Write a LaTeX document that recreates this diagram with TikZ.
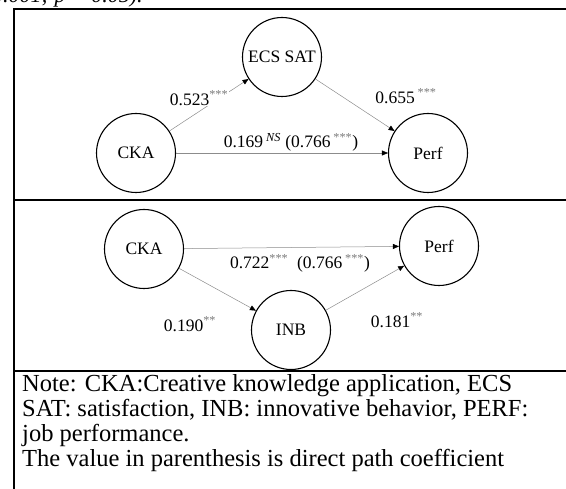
\documentclass[tikz,border=0pt]{standalone}
\usepackage{fontspec}
\setmainfont{Liberation Serif}
\usetikzlibrary{arrows.meta}
\definecolor{pathgray}{HTML}{8C8C8C}
\definecolor{stargray}{HTML}{7A7A7A}
\newcommand{\sig}[1]{\textsuperscript{\color{stargray}#1}}

\begin{document}
\begin{tikzpicture}[x=1pt,y=-1pt,>={Triangle[length=6pt,width=5pt,color=black]},
  lv/.style={circle,draw,line width=1.1pt,minimum size=79pt,inner sep=0pt,font=\fontsize{17.5}{19}\selectfont},
  pth/.style={->,draw=pathgray,line width=0.5pt},
  coef/.style={font=\fontsize{17.5}{19}\selectfont,inner sep=1pt},
  frame/.style={line width=1.6pt}]
\useasboundingbox (0,0) rectangle (566,489);
\clip (0,0) rectangle (566,489);

% cut-off caption line
\node[anchor=west,font=\fontsize{22}{24}\selectfont\itshape,inner sep=0pt] (cap) at (-8,-3) {0.001; p < 0.05).};

% frame
\draw[frame] (14,495) -- (14,9) -- (570,9);
\draw[frame] (14,200) -- (570,200);
\draw[frame] (14,371) -- (570,371);

% panel 1: mediation through ECS SAT
\node[lv] (cka1) at (136,153) {CKA};
\node[lv] (ecs) at (282,57) {ECS SAT};
\node[lv] (perf1) at (428,153) {Perf};
\draw[pth] (cka1) -- (ecs);
\draw[pth] (ecs) -- (perf1);
\draw[pth] (cka1) -- (perf1);
\node[coef,fill=white] (c1) at (199,98) {0.523\sig{***}};
\node[coef,fill=white] (c2) at (406,96) {0.655\,\sig{***}};
\node[coef] (c3) at (291,142) {0.169\,\textsuperscript{\itshape NS} (0.766\,\sig{***})};

% panel 2: mediation through INB
\node[lv] (cka2) at (144,249) {CKA};
\node[lv] (inb) at (291,330) {INB};
\node[lv] (perf2) at (439,246) {Perf};
\draw[pth] (cka2) -- (perf2);
\draw[pth] (cka2) -- (inb);
\draw[pth] (inb) -- (perf2);
\node[coef] (c4) at (300,263) {0.722\sig{***}\ \ (0.766\,\sig{***})};
\node[coef] (c5) at (190,324) {0.190\sig{**}};
\node[coef] (c6) at (397,320) {0.181\sig{**}};

% note
\node[anchor=north west,align=left,inner sep=0pt,font=\fontsize{24.5}{25}\selectfont] (note) at (22,374)
  {Note: CKA:Creative knowledge application, ECS\\
   SAT: satisfaction, INB: innovative behavior, PERF:\\
   job performance.\\
   The value in parenthesis is direct path coefficient};
\end{tikzpicture}
\end{document}
